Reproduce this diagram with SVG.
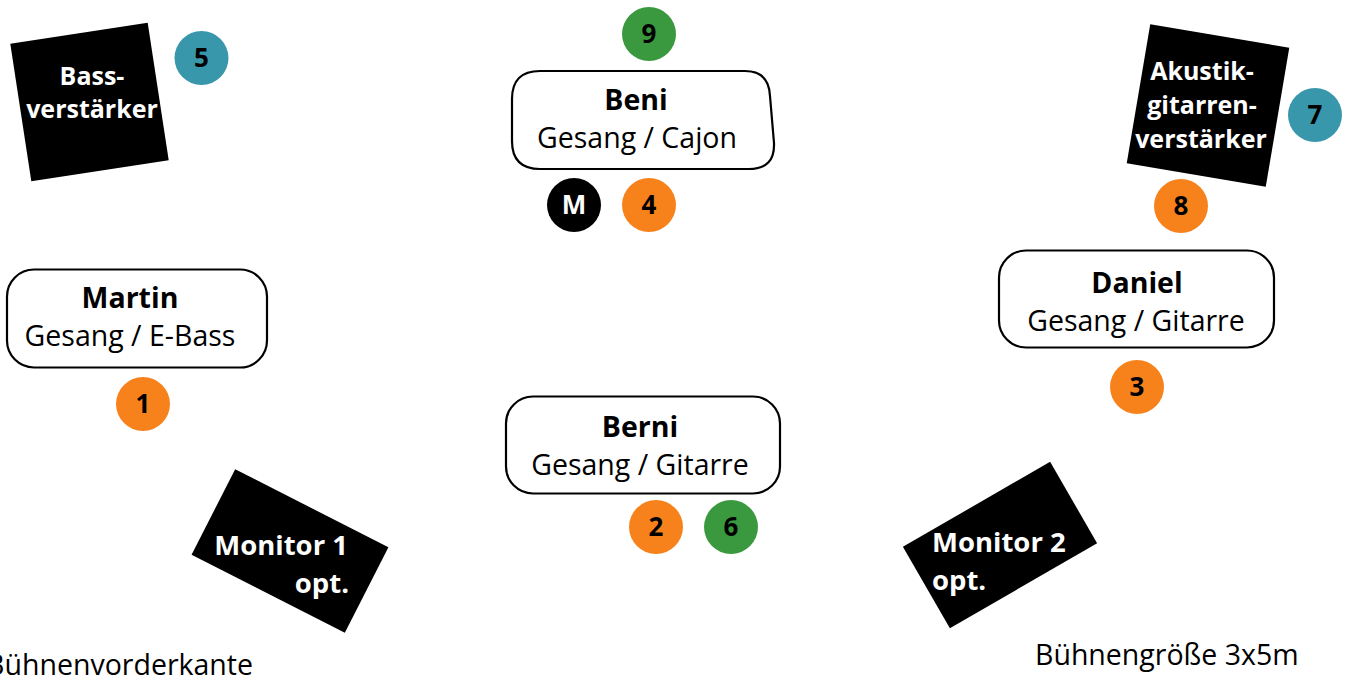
<svg xmlns="http://www.w3.org/2000/svg" width="1350" height="683" viewBox="0 0 1350 683">
<style>
.box{fill:#fff;stroke:#000;stroke-width:2.2}
.name{font-family:"Open Sans","Liberation Sans",sans-serif;font-weight:bold;font-size:28.5px;fill:#000;text-anchor:middle}
.role{font-family:"Open Sans","Liberation Sans",sans-serif;font-size:28.5px;fill:#000;text-anchor:middle}
.amp{fill:#000}
.ampt{font-family:"Open Sans","Liberation Sans",sans-serif;font-weight:bold;font-size:25px;fill:#fff}
.mon{font-family:"Open Sans","Liberation Sans",sans-serif;font-weight:bold;font-size:27.5px;fill:#fff}
.num{font-family:"Open Sans","Liberation Sans",sans-serif;font-weight:bold;font-size:26px;fill:#000;text-anchor:middle}
.orange{fill:#f7821c}
.teal{fill:#3997ac}
.green{fill:#3a993e}
.black{fill:#000}
.note{font-family:"Open Sans","Liberation Sans",sans-serif;font-size:28.5px;fill:#000}
</style>
<rect width="1350" height="683" fill="#fff"/>
<g id="connectors"></g>

<g id="bassverstaerker">
<rect class="amp" x="-69.5" y="-69.5" width="139" height="139" transform="translate(89.5,102) rotate(-8.7)"/>
<text class="ampt" x="92" y="85" text-anchor="middle">Bass-</text>
<text class="ampt" x="92" y="118" text-anchor="middle">verstärker</text>
</g>

<g id="akustikverstaerker">
<rect class="amp" x="-70.5" y="-70.5" width="141" height="141" transform="translate(1208,105.5) rotate(9.6)"/>
<text class="ampt" x="1202" y="80" text-anchor="middle">Akustik-</text>
<text class="ampt" x="1202" y="114" text-anchor="middle">gitarren-</text>
<text class="ampt" x="1201" y="148" text-anchor="middle">verstärker</text>
</g>

<g id="monitor1">
<rect class="amp" x="-86" y="-48" width="172" height="96" transform="translate(290,551) rotate(27)"/>
<text class="mon" x="348" y="555" text-anchor="end">Monitor 1</text>
<text class="mon" x="349" y="593" text-anchor="end">opt.</text>
</g>

<g id="monitor2">
<rect class="amp" x="-85" y="-47" width="170" height="94" transform="translate(1000,545) rotate(-30)"/>
<text class="mon" x="932" y="552">Monitor 2</text>
<text class="mon" x="932" y="590">opt.</text>
</g>

<g id="beni">
<path class="box" d="M540,71 L745,71 Q769,71 770,96 L774,143 Q775,169 749,169 L540,169 Q512,169 512,141 L512,99 Q512,71 540,71 Z"/>
<text class="name" x="636" y="110">Beni</text>
<text class="role" x="637" y="148">Gesang / Cajon</text>
</g>

<g id="martin">
<rect class="box" x="7" y="269.5" width="260" height="98" rx="27"/>
<text class="name" x="130" y="308">Martin</text>
<text class="role" x="130" y="346">Gesang / E-Bass</text>
</g>

<g id="berni">
<rect class="box" x="506" y="396.5" width="274" height="97" rx="27"/>
<text class="name" x="640" y="437">Berni</text>
<text class="role" x="640" y="475">Gesang / Gitarre</text>
</g>

<g id="daniel">
<rect class="box" x="999" y="250.5" width="275" height="97" rx="27"/>
<text class="name" x="1137" y="293">Daniel</text>
<text class="role" x="1136" y="331">Gesang / Gitarre</text>
</g>

<g id="n5"><circle class="teal" cx="201.5" cy="58" r="27"/><text class="num" x="201.5" y="67">5</text></g>
<g id="n9"><circle class="green" cx="649" cy="34" r="27"/><text class="num" x="649" y="43">9</text></g>
<g id="nM"><circle class="black" cx="574" cy="205" r="27"/><text class="num" x="574" y="214" style="fill:#fff">M</text></g>
<g id="n4"><circle class="orange" cx="649" cy="205" r="27"/><text class="num" x="649" y="214">4</text></g>
<g id="n7"><circle class="teal" cx="1315" cy="115" r="27"/><text class="num" x="1315" y="124">7</text></g>
<g id="n8"><circle class="orange" cx="1181" cy="206" r="27"/><text class="num" x="1181" y="215">8</text></g>
<g id="n1"><circle class="orange" cx="143" cy="404" r="27"/><text class="num" x="143" y="413">1</text></g>
<g id="n3"><circle class="orange" cx="1137" cy="387" r="27"/><text class="num" x="1137" y="396">3</text></g>
<g id="n2"><circle class="orange" cx="656" cy="527" r="27"/><text class="num" x="656" y="536">2</text></g>
<g id="n6"><circle class="green" cx="731" cy="527" r="27"/><text class="num" x="731" y="536">6</text></g>

<g id="labels">
<text class="note" x="253" y="675" text-anchor="end">Bühnenvorderkante</text>
<text class="note" x="1035" y="665">Bühnengröße 3x5m</text>
</g>
</svg>
